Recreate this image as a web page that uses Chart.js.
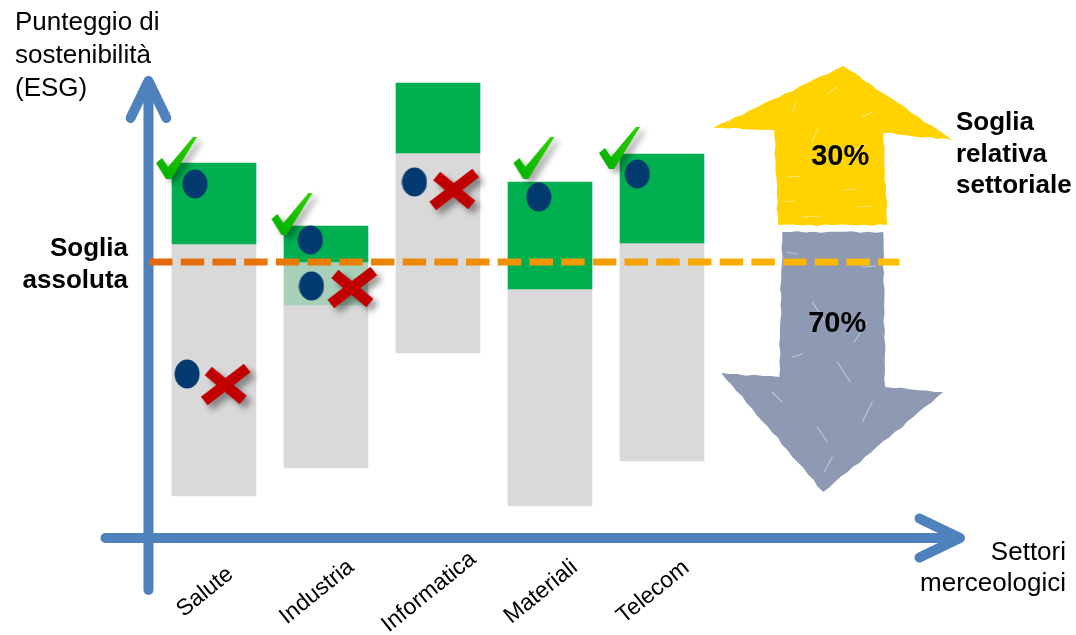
<!DOCTYPE html>
<html>
<head>
<meta charset="utf-8">
<script src="https://cdn.jsdelivr.net/npm/chart.js@4.4.1/dist/chart.umd.min.js"></script>
<style>
html, body { margin: 0; padding: 0; background: #fff; }
#wrap { width: 1076px; height: 635px; }
</style>
</head>
<body>
<div id="wrap"><canvas id="grafico" width="1076" height="635"></canvas></div>
<script>
// settori e punteggi ESG (scala 0-100)
var settori = ["Salute", "Industria", "Informatica", "Materiali", "Telecom"];
var minimoSettore = [8.4, 14, 37, 6.4, 15.4];
var inizioTop30 = [58.8, 46.6, 77, 49.8, 59];
var inizioVerde = [58.8, 55.2, 77, 49.8, 59];
var massimoSettore = [75, 62.4, 91, 71.2, 76.8];
var sogliaAssoluta = 55.2;

// aziende: posizione nel settore (indice) e punteggio
var aziendeX = [-0.17, -0.24, 0.86, 0.87, 1.79, 2.90, 3.78];
var aziendeY = [70.8, 32.8, 59.6, 50.4, 71.2, 68.2, 72.8];
var promosseX = [-0.33, 0.70, 2.86, 3.625];
var promosseY = [76, 64.8, 76, 78];
var bocciateX = [0.10, 1.23, 2.14];
var bocciateY = [30.4, 49.8, 69.4];
var quote = ["30%", "70%"];

var FONT = "'Liberation Sans', Arial, sans-serif";

function punti(xs, ys) {
    var out = [];
    for (var i = 0; i < xs.length; i++) out.push({x: xs[i], y: ys[i]});
    return out;
}

// simboli disegnati su canvas
function creaPallino() {
    var c = document.createElement("canvas");
    c.width = 26; c.height = 30;
    var g = c.getContext("2d");
    g.fillStyle = "#033a70";
    g.beginPath();
    g.ellipse(13, 15, 12.5, 14.5, 0, 0, Math.PI * 2);
    g.fill();
    return c;
}

function creaSpunta() {
    var c = document.createElement("canvas");
    c.width = 70; c.height = 70;
    var g = c.getContext("2d");
    g.translate(35, 35);
    g.shadowColor = "rgba(0,0,0,0.35)";
    g.shadowBlur = 6;
    g.shadowOffsetX = 5;
    g.shadowOffsetY = 4;
    var gr = g.createLinearGradient(-20, 20, 20, -20);
    gr.addColorStop(0, "#00b000");
    gr.addColorStop(1, "#30d000");
    g.fillStyle = gr;
    g.beginPath();
    g.moveTo(-21, 5);
    g.lineTo(-15, 0);
    g.lineTo(-9, 9);
    g.lineTo(16, -21);
    g.lineTo(20, -21);
    g.lineTo(-6, 21);
    g.lineTo(-11, 21);
    g.closePath();
    g.fill();
    return c;
}

function creaCroce() {
    var c = document.createElement("canvas");
    c.width = 80; c.height = 70;
    var g = c.getContext("2d");
    g.translate(40, 35);
    g.shadowColor = "rgba(0,0,0,0.4)";
    g.shadowBlur = 6;
    g.shadowOffsetX = 5;
    g.shadowOffsetY = 5;
    g.strokeStyle = "#c00000";
    g.lineCap = "butt";
    g.lineWidth = 11;
    g.beginPath();
    g.moveTo(-17, -15);
    g.lineTo(18, 14);
    g.moveTo(-21, 15);
    g.lineTo(22, -18);
    g.stroke();
    return c;
}

// bordo appena irregolare per le frecce "a pennello"
function poligono(ctx, cx, cy, pts, colore) {
    ctx.fillStyle = colore;
    ctx.beginPath();
    var k = 0;
    for (var i = 0; i < pts.length; i++) {
        var a = pts[i], b = pts[(i + 1) % pts.length];
        var dx = b[0] - a[0], dy = b[1] - a[1];
        var len = Math.sqrt(dx * dx + dy * dy);
        var n = Math.max(1, Math.round(len / 8));
        for (var j = 0; j < n; j++) {
            var t = j / n;
            var off = (j === 0) ? 0 : 0.6 * Math.sin(k * 2.7) + 0.4 * Math.sin(k * 5.3);
            k++;
            var px = cx + a[0] + dx * t - dy / len * off;
            var py = cy + a[1] + dy * t + dx / len * off;
            if (i === 0 && j === 0) ctx.moveTo(px, py); else ctx.lineTo(px, py);
        }
    }
    ctx.closePath();
    ctx.fill();
}

function graffi(ctx, cx, cy, lista) {
    ctx.strokeStyle = "rgba(255,255,255,0.45)";
    ctx.lineWidth = 1.1;
    ctx.lineCap = "round";
    for (var i = 0; i < lista.length; i++) {
        var s = lista[i];
        ctx.beginPath();
        ctx.moveTo(cx + s[0], cy + s[1]);
        ctx.lineTo(cx + s[2], cy + s[3]);
        ctx.stroke();
    }
}

function freccia(ctx, x1, y1, x2, y2, testa) {
    var ang = Math.atan2(y2 - y1, x2 - x1);
    ctx.beginPath();
    ctx.moveTo(x1, y1);
    ctx.lineTo(x2, y2);
    ctx.moveTo(x2 - testa * Math.cos(ang - 0.45), y2 - testa * Math.sin(ang - 0.45));
    ctx.lineTo(x2, y2);
    ctx.lineTo(x2 - testa * Math.cos(ang + 0.45), y2 - testa * Math.sin(ang + 0.45));
    ctx.stroke();
}

function testo(ctx, righe, x, y0, passo, font, align) {
    ctx.font = font;
    ctx.textAlign = align;
    ctx.textBaseline = "alphabetic";
    ctx.fillStyle = "#000";
    for (var i = 0; i < righe.length; i++) ctx.fillText(righe[i], x, y0 + i * passo);
}

var decorazioni = {
    id: "decorazioni",
    beforeDatasetsDraw: function (chart) {
        var ctx = chart.ctx, xs = chart.scales.x, ys = chart.scales.y;
        var ax = xs.getPixelForValue(-0.585);
        var ay = ys.getPixelForValue(0);
        ctx.save();
        // assi
        ctx.strokeStyle = "#4f81bd";
        ctx.lineWidth = 10;
        ctx.lineCap = "round";
        ctx.lineJoin = "round";
        freccia(ctx, ax, ay + 52, ax, 81, 41);
        freccia(ctx, ax - 43, ay, 960, ay, 45);

        // frecce 30% / 70%
        var cx = xs.getPixelForValue(5.52);
        var cy = ys.getPixelForValue(sogliaAssoluta);
        poligono(ctx, cx, cy, [[11, -196], [120, -122], [51, -129], [55, -37], [-54, -37], [-58, -132], [-119, -134]], "#ffd200");
        poligono(ctx, cx, cy, [[-50, -30], [51, -30], [53, 125], [111, 130], [-9, 230], [-111, 111], [-53, 115]], "#8e99b4");
        graffi(ctx, cx, cy, [
            [-40, -150, -36, -160], [-5, -168, 5, -175], [30, -145, 40, -150], [-20, -120, -14, -135],
            [20, -110, 34, -118], [-45, -85, -32, -86], [10, -72, 22, -73], [-50, -60, -38, -61],
            [25, -55, 40, -56], [-30, -45, -12, -46],
            [-45, -10, -35, -8], [30, 5, 44, 4], [-20, 40, -8, 58], [35, 60, 22, 80], [-40, 95, -30, 92],
            [5, 100, 18, 120], [-60, 130, -50, 140], [40, 140, 30, 160], [-15, 165, -5, 180], [0, 195, -8, 210]
        ]);
        ctx.restore();
    },
    afterDraw: function (chart) {
        var ctx = chart.ctx, xs = chart.scales.x, ys = chart.scales.y;
        ctx.save();
        var cx = xs.getPixelForValue(5.52);
        var cy = ys.getPixelForValue(sogliaAssoluta);
        testo(ctx, ["Punteggio di", "sostenibilità", "(ESG)"], 15, 30, 33, "26px " + FONT, "left");
        testo(ctx, ["Soglia", "assoluta"], 128, 256, 32, "bold 26px " + FONT, "right");
        testo(ctx, ["Soglia", "relativa", "settoriale"], 956, 130, 31.5, "bold 26px " + FONT, "left");
        testo(ctx, ["Settori", "merceologici"], 1066, 560, 31, "26px " + FONT, "right");
        testo(ctx, [quote[0]], cx + 8, cy - 97, 0, "bold 29px " + FONT, "center");
        testo(ctx, [quote[1]], cx + 5, cy + 70, 0, "bold 29px " + FONT, "center");

        ctx.font = "23px " + FONT;
        ctx.textAlign = "center";
        ctx.textBaseline = "middle";
        for (var i = 0; i < settori.length; i++) {
            var px = xs.getPixelForValue(i - 0.08);
            ctx.save();
            ctx.translate(px, 592);
            ctx.rotate(-39 * Math.PI / 180);
            ctx.fillText(settori[i], 0, 0);
            ctx.restore();
        }
        ctx.restore();
    }
};

var grigie = [], verdi = [], chiare = [];
for (var i = 0; i < settori.length; i++) {
    grigie.push({x: i, y: [minimoSettore[i], inizioTop30[i]]});
    verdi.push({x: i, y: [inizioVerde[i], massimoSettore[i]]});
    if (inizioVerde[i] > inizioTop30[i]) chiare.push({x: i, y: [inizioTop30[i], inizioVerde[i]]});
}

var ctx = document.getElementById("grafico").getContext("2d");
var grafico = new Chart(ctx, {
    type: "bar",
    data: {
        datasets: [
            {label: "Settore", data: grigie, backgroundColor: "#d9d9d9", barThickness: 84, grouped: false, order: 6},
            {label: "Top 30% sotto soglia", data: chiare, backgroundColor: "#a8d0b8", barThickness: 84, grouped: false, order: 5},
            {label: "Top 30%", data: verdi, backgroundColor: "#00b050", barThickness: 84, grouped: false, order: 4},
            {
                type: "line", label: "Soglia assoluta",
                data: [{x: -0.58, y: sogliaAssoluta}, {x: 6.12, y: sogliaAssoluta}],
                borderWidth: 7, borderDash: [23.5, 8.2], borderCapStyle: "butt",
                pointRadius: 0, fill: false, order: 3,
                borderColor: function (c) {
                    var ch = c.chart, xs = ch.scales.x;
                    if (!ch.chartArea || !xs) return "#e36c0a";
                    var g = ch.ctx.createLinearGradient(xs.getPixelForValue(-0.58), 0, xs.getPixelForValue(6.12), 0);
                    g.addColorStop(0, "#e2680c");
                    g.addColorStop(1, "#ffc000");
                    return g;
                }
            },
            {type: "scatter", label: "Aziende", data: punti(aziendeX, aziendeY), pointStyle: creaPallino(), pointRadius: 10, order: 2},
            {type: "scatter", label: "Promosse", data: punti(promosseX, promosseY), pointStyle: creaSpunta(), pointRadius: 10, order: 1},
            {type: "scatter", label: "Escluse", data: punti(bocciateX, bocciateY), pointStyle: creaCroce(), pointRadius: 10, order: 0}
        ]
    },
    options: {
        responsive: false,
        animation: false,
        events: [],
        layout: {padding: {left: 102, right: 78, top: 38, bottom: 97}},
        plugins: {legend: {display: false}, tooltip: {enabled: false}},
        scales: {
            x: {type: "linear", min: -1, max: 7, offset: false, display: false},
            y: {type: "linear", min: 0, max: 100, display: false}
        }
    },
    plugins: [decorazioni]
});
</script>
</body>
</html>
